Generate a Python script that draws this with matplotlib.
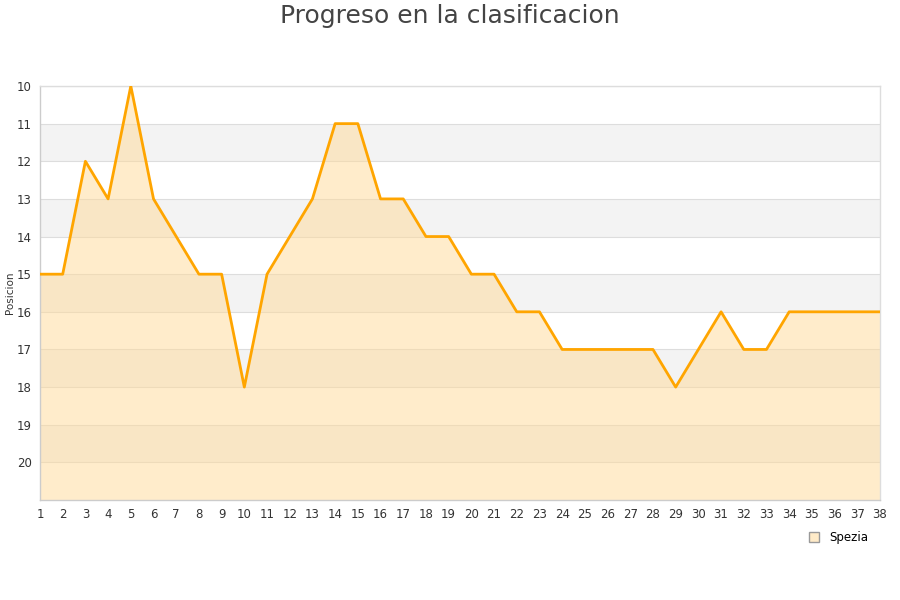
import matplotlib
matplotlib.use("Agg")
import matplotlib.pyplot as plt
from matplotlib.lines import Line2D

# datos
jornadas = list(range(1, 39))
posicion = [15, 15, 12, 13, 10, 13, 14, 15, 15, 18,
            15, 14, 13, 11, 11, 13, 13, 14, 14, 15,
            15, 16, 16, 17, 17, 17, 17, 17, 18, 17,
            16, 17, 17, 16, 16, 16, 16, 16]
y_ticks = list(range(10, 21))
equipo = "Spezia"

fig = plt.figure(figsize=(9, 6), dpi=100)
ax = fig.add_axes([40 / 900, 1 - 500 / 600, 840 / 900, 414 / 600])

# bandas alternas
for lo in range(11, 21, 2):
    ax.axhspan(lo, lo + 1, color="#f3f3f3", zorder=0, lw=0)
for t in y_ticks:
    ax.axhline(t, color="#dddddd", lw=0.8, zorder=1)

ax.fill_between(jornadas, posicion, 21, color="#ffdb99", alpha=0.5, zorder=2, lw=0)
ax.plot(jornadas, posicion, color="#ffa500", lw=2, zorder=3)

ax.set_xlim(1, 38)
ax.set_ylim(21, 10)
ax.set_xticks(jornadas)
ax.set_yticks(y_ticks)
ax.tick_params(length=0, labelsize=8.5, colors="#333333", pad=6)
for s in ax.spines.values():
    s.set_color("#dddddd")
    s.set_linewidth(1)
ax.spines["left"].set_color("#cccccc")
ax.spines["bottom"].set_color("#cccccc")

ax.set_ylabel("Posicion", fontsize=7.5, color="#333333")
ax.yaxis.set_label_coords(-25 / 840, 0.5)
fig.text(0.5, 1 - 16 / 600, "Progreso en la clasificacion", fontsize=18,
         color="#444444", ha="center", va="center")

handle = Line2D([], [], marker="s", ls="", markersize=7,
                markerfacecolor="#ffebc8", markeredgecolor="#999999")
fig.legend([handle], [equipo], loc="center", bbox_to_anchor=(835 / 900, 1 - 538 / 600),
           frameon=False, fontsize=8.5, handletextpad=0.3)

fig.savefig("out.png", dpi=100)
